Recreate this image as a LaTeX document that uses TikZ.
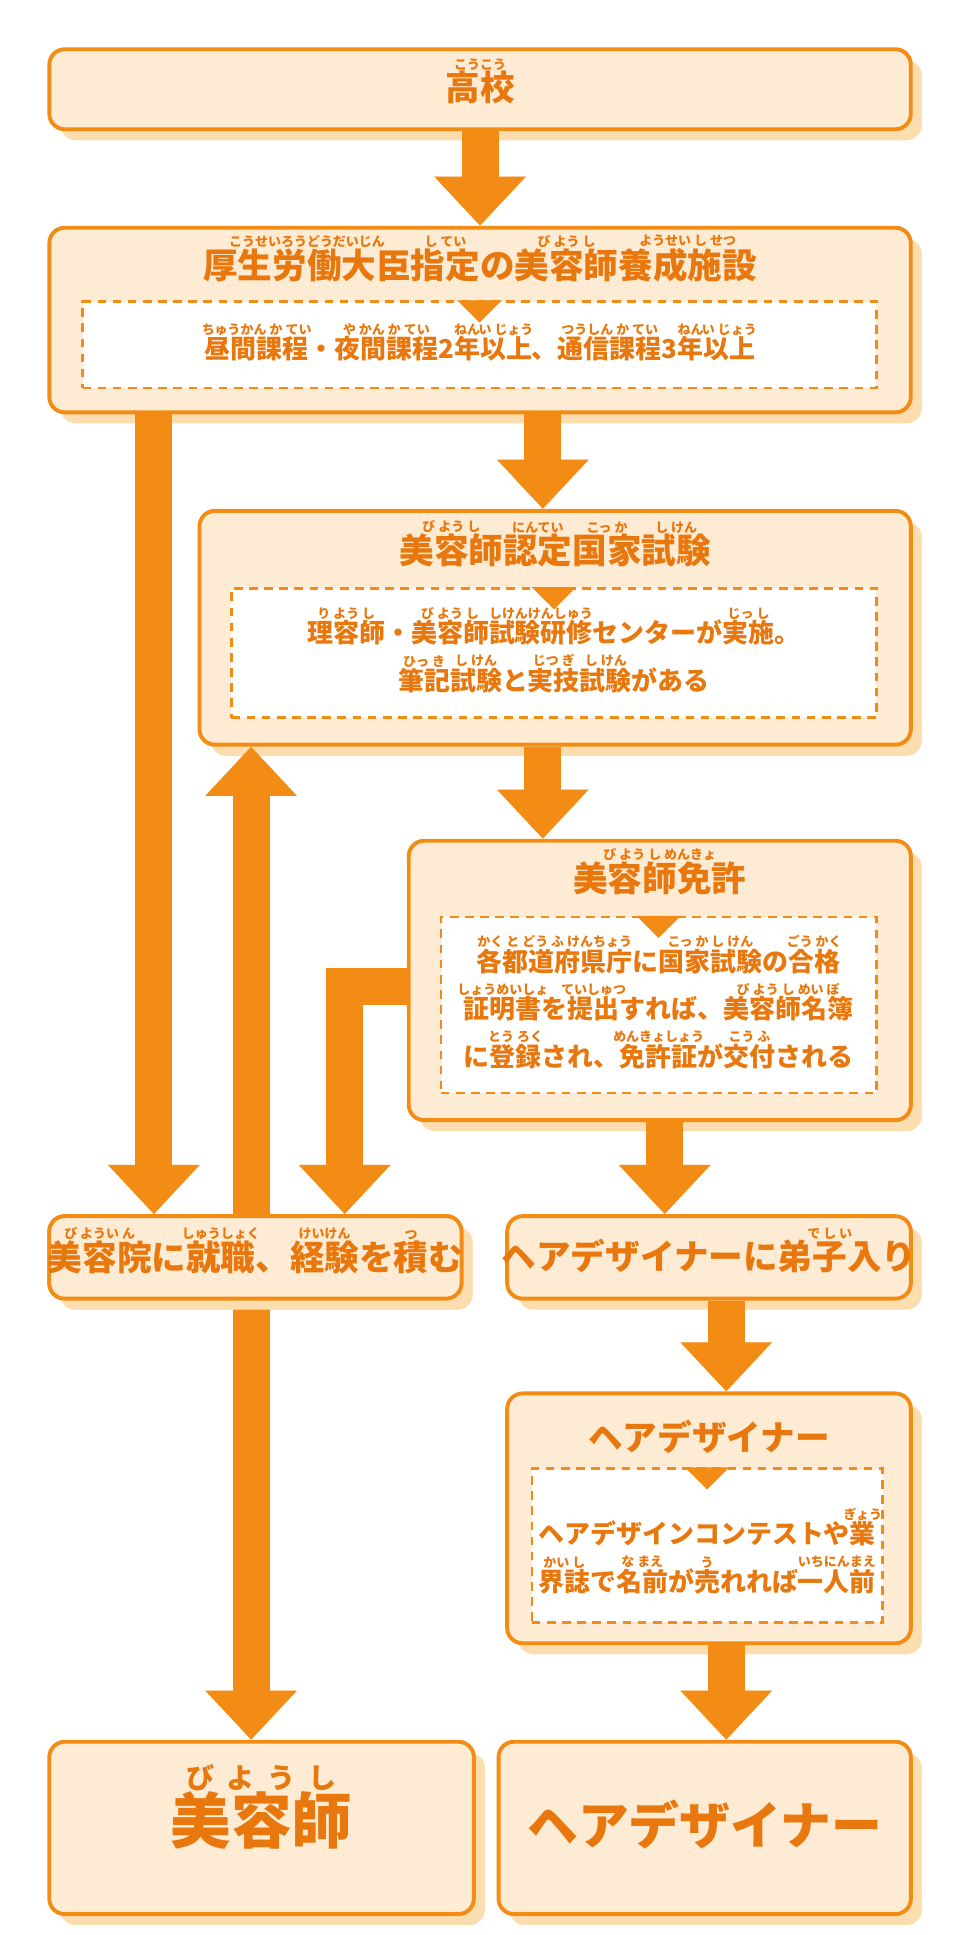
\documentclass[tikz,border=0pt]{standalone}
\usepackage{fontspec}
\setmainfont{Noto Sans CJK JP}
\usepackage{xcolor}
\usetikzlibrary{arrows.meta, shadows}
\definecolor{org}{HTML}{F28C14}
\definecolor{txt}{HTML}{E8780E}
\definecolor{pale}{HTML}{FDEBD3}
\definecolor{shad}{HTML}{FCDDB0}
% ruby over a base word
\newcommand\rb[2]{\leavevmode\setbox0\hbox{#1}\vbox{\offinterlineskip\hbox to\wd0{\hss\rbfont #2\hss}\vskip0.5pt\box0}}
\newcommand\rbfont{\fontsize{6}{6}\selectfont}
\begin{document}
\begin{tikzpicture}[x=0.02cm, y=-0.02cm,
    box/.style={draw=org, line width=1.8pt, fill=pale, rounded corners=0.25cm,
      drop shadow={fill=shad, opacity=1, shadow xshift=0.18cm, shadow yshift=-0.18cm}},
    inner/.style={draw=org, line width=1.1pt, dashed, dash pattern=on 4pt off 3pt, fill=white},
    ttl/.style={text=txt, font=\bfseries\fontsize{16}{18}\selectfont, align=center},
    sub/.style={text=txt, font=\bfseries\fontsize{12}{22}\selectfont, align=center},
    big/.style={text=txt, font=\bfseries\fontsize{28}{30}\selectfont, align=center},
    blk/.style={line width=0.6cm, -{Triangle[width=1.44cm, length=0.8cm]}},
    tri/.style={fill=org}
]
\useasboundingbox (0,0) rectangle (780,1572);

% boxes
\node[box, minimum width=14cm, minimum height=1.3cm] (school) at (390,72.5) {};
\node[box, minimum width=14cm, minimum height=3cm] (facility) at (390,260) {};
\node[box, minimum width=11.56cm, minimum height=3.8cm] (exam) at (451,510) {};
\node[box, minimum width=8.16cm, minimum height=4.54cm] (license) at (536,796.5) {};
\node[box, minimum width=6.7cm, minimum height=1.34cm] (salon) at (207.5,1021.5) {};
\node[box, minimum width=6.56cm, minimum height=1.34cm] (apprentice) at (576,1021.5) {};
\node[box, minimum width=6.56cm, minimum height=4.06cm] (designer) at (576,1233.5) {};
\node[box, minimum width=6.9cm, minimum height=2.8cm] (biyoushi) at (212.5,1485) {};
\node[box, minimum width=6.7cm, minimum height=2.8cm] (hairdes) at (572.5,1485) {};

% arrows
\coordinate (xa) at (390,0);
\coordinate (xb) at (441,0);
\coordinate (xl) at (125,0);
\coordinate (xu) at (204,0);
\coordinate (xe) at (280,0);
\coordinate (xg) at (540,0);
\coordinate (xh) at (590,0);
\foreach \sx/\col in {10/shad, 0/org} {
  \begin{scope}[shift={(\sx,\sx*0.6)}, color=\col]
    \draw[blk] (school.south -| xa) -- (facility.north -| xa);
    \draw[blk] (facility.south -| xb) -- (exam.north -| xb);
    \draw[blk] (facility.south -| xl) -- (salon.north -| xl);
    \draw[blk] (salon.north -| xu) -- (exam.south -| xu);
    \draw[blk] (exam.south -| xb) -- (license.north -| xb);
    \draw[blk, line join=miter] ([yshift=-0.1cm]license.west) -| (salon.north -| xe);
    \draw[blk] (license.south -| xg) -- (apprentice.north -| xg);
    \draw[blk] (salon.south -| xu) -- (biyoushi.north -| xu);
    \draw[blk] (apprentice.south -| xh) -- (designer.north -| xh);
    \draw[blk] (designer.south -| xh) -- (hairdes.north -| xh);
  \end{scope}
}
% redraw boxes crossed by arrows
\node[box, minimum width=6.7cm, minimum height=1.34cm] at (salon) {};

% inner dashed boxes
\node[inner, minimum width=12.9cm, minimum height=1.4cm] (facin) at (389.5,280) {};
\node[inner, minimum width=10.48cm, minimum height=2.1cm] (examin) at (450,530.5) {};
\node[inner, minimum width=7.08cm, minimum height=2.86cm] (licin) at (535,816.5) {};
\node[inner, minimum width=5.7cm, minimum height=2.5cm] (desin) at (574.5,1255.5) {};
\foreach \n in {facin, examin, licin, desin}
  \fill[tri] (\n.north) ++(-18,0) -- ++(36,0) -- ++(-18,18) -- cycle;

% texts
\node[ttl] (tschool) at (390,66) {\rb{高校}{こうこう}};
\node[ttl] (tfacility) at (390,210) {\rb{厚生労働大臣}{こうせいろうどうだいじん}\rb{指定}{し\ てい}の\rb{美容師}{び\ よう\ し}\rb{養成施設}{ようせい\ し\ せつ}};
\node[sub] (sfacility) at (390,278) {\rb{昼間課程}{ちゅうかん\ か\ てい}・\rb{夜間課程}{や\ かん\ か\ てい}2\rb{年}{ねん}\rb{以上}{い\ じょう}、\rb{通信課程}{つうしん\ か\ てい}3\rb{年}{ねん}\rb{以上}{い\ じょう}};
\node[ttl] (texam) at (451,442) {\rb{美容師}{び\ よう\ し}\rb{認定}{にんてい}\rb{国家}{こっ\ か}\rb{試験}{し\ けん}};
\node[sub] (sexam) at (450,528) {\rb{理容師}{り\ よう\ し}・\rb{美容師}{び\ よう\ し}\rb{試験研修}{しけんけんしゅう}センターが\rb{実施}{じっ\ し}。\\
  \rb{筆記}{ひっ\ き}\rb{試験}{し\ けん}と\rb{実技}{じつ\ ぎ}\rb{試験}{し\ けん}がある};
\node[ttl] (tlicense) at (536,708) {\rb{美容師免許}{び\ よう\ し\ めんきょ}};
\node[sub] (slicense) at (535,814) {\rb{各都道府県庁}{かく\ と\ どう\ ふ\ けんちょう}に\rb{国家試験}{こっ\ か\ し\ けん}の\rb{合格}{ごう\ かく}\\
  \rb{証明書}{しょうめいしょ}を\rb{提出}{ていしゅつ}すれば、\rb{美容師名簿}{び\ よう\ し\ めい\ ぼ}\\
  に\rb{登録}{とう\ ろく}され、\rb{免許証}{めんきょしょう}が\rb{交付}{こう\ ふ}される};
\node[ttl] (tsalon) at (207.5,1016) {\rb{美容院}{び\ ようい\ ん}に\rb{就職}{しゅうしょく}、\rb{経験}{けいけん}を\rb{積}{つ}む};
\node[ttl] (tapprentice) at (576,1016) {ヘアデザイナーに\rb{弟子入}{で\ し\ い}り};
\node[ttl] (tdesigner) at (576,1167) {ヘアデザイナー};
\node[sub] (sdesigner) at (574.5,1260) {ヘアデザインコンテストや\rb{業}{ぎょう}\\
  \rb{界誌}{かい\ し}で\rb{名前}{な\ まえ}が\rb{売}{う}れれば\rb{一人前}{いちにんまえ}};
\node[big] (tbiyoushi) at (212.5,1468) {\rb{美容師}{\fontsize{13}{13}\selectfont び\ \ よ\ \ う\ \ し}};
\node[big, font=\bfseries\fontsize{23.5}{26}\selectfont] (thairdes) at (572.5,1482) {ヘアデザイナー};
\end{tikzpicture}
\end{document}
